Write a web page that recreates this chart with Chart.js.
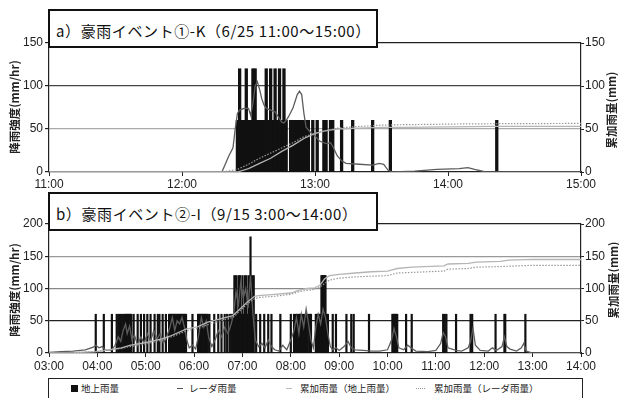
<!DOCTYPE html>
<html>
<head>
<meta charset="utf-8">
<script src="https://cdn.jsdelivr.net/npm/chart.js@4.4.0/dist/chart.umd.min.js"></script>
<style>
  body { margin: 0; background: #fff; }
  #page { position: relative; width: 619px; height: 398px; overflow: hidden; background: #fff;
          font-family: 'Noto Sans CJK JP', sans-serif; color: #111; }
  .wrap { position: absolute; left: 0; width: 619px; }
  .titlebox { position: absolute; left: 48px; width: 330px; height: 39px; box-sizing: border-box;
              border: 2px solid #111; background: #fff; font-size: 15px; line-height: 30px;
              padding: 5px 0 0 6px; white-space: nowrap; letter-spacing: 0.6px; }
  .ytitle { position: absolute; transform: translate(-50%, -50%) rotate(-90deg); font-size: 11.5px;
            font-weight: bold; white-space: nowrap; color: #222; }
  .lg { position: absolute; font-size: 9.5px; line-height: 12px; top: 382px; white-space: nowrap; color: #222; }
</style>
</head>
<body>
<div id="page">
  <div class="wrap" style="top:0;height:190px"><canvas id="chartA"></canvas></div>
  <div class="wrap" style="top:190px;height:183px"><canvas id="chartB"></canvas></div>

  <div class="titlebox" style="top:9px">a）豪雨イベント①-K（6/25 11:00～15:00）</div>
  <div class="titlebox" style="top:192px">b）豪雨イベント②-I（9/15 3:00～14:00）</div>

  <div class="ytitle" style="left:14px;top:107px">降雨強度(mm/hr)</div>
  <div class="ytitle" style="left:611px;top:110px">累加雨量(mm)</div>
  <div class="ytitle" style="left:14px;top:290px">降雨強度(mm/hr)</div>
  <div class="ytitle" style="left:613px;top:280px">累加雨量(mm)</div>

  <div style="position:absolute;left:48px;top:378px;width:535px;height:24px;box-sizing:border-box;border:1.5px solid #222"></div>
  <div style="position:absolute;left:71px;top:384.5px;width:7px;height:7px;background:#111"></div>
  <div class="lg" style="left:81px">地上雨量</div>
  <div style="position:absolute;left:177px;top:387.5px;width:6px;height:1.5px;background:#555"></div>
  <div class="lg" style="left:189px">レーダ雨量</div>
  <div style="position:absolute;left:286px;top:387.5px;width:6px;height:1.5px;background:#bbb"></div>
  <div class="lg" style="left:300px">累加雨量（地上雨量）</div>
  <div style="position:absolute;left:416px;top:387.5px;width:9px;height:0;border-top:1.5px dotted #999"></div>
  <div class="lg" style="left:434px">累加雨量（レーダ雨量）</div>
</div>

<script>
// Rain charts: ground gauge (1-min), radar, accumulated
Chart.defaults.font.family = "'Liberation Sans Narrow', 'Liberation Sans', sans-serif";
Chart.defaults.font.size = 12;
Chart.defaults.color = '#222';

// ---- a) 6/25 11:00-15:00, x in minutes after 11:00
const aTimeLabels = ['11:00', '12:00', '13:00', '14:00', '15:00'];
const aRain60 = [85, 87, 88, 90, 91, 94, 95, 96, 97, 99, 101, 103, 105, 107, 109, 110, 111, 112, 113, 114,
                 115, 116, 117, 119, 121, 124, 125, 127, 128, 132, 137, 146, 154, 202];
const aRain120 = [86, 89, 92, 93, 98, 100, 102, 104, 106];
const aRadarMin = [0, 78, 80, 81, 83, 84, 85, 86, 88, 90, 91, 92, 93, 94, 95, 96, 97, 98, 100, 102, 103, 105,
                   106, 107, 108, 110, 111, 112, 113, 114, 115, 116, 118, 120, 122, 125, 127, 128, 130, 132,
                   134, 140, 146, 149, 151, 153, 155, 165, 175, 185, 189, 192, 197, 240];
const aRadarVal = [0, 0, 12, 18, 28, 50, 68, 72, 74, 74, 66, 80, 100, 105, 96, 85, 78, 74, 72, 70, 66, 58,
                   57, 60, 64, 74, 82, 90, 94, 90, 68, 52, 46, 42, 36, 33, 34, 30, 19, 13,
                   10, 9, 8, 10, 9, 2, 0, 1, 3, 4, 5, 3, 0, 0];
const aAccGroundMin = [0, 85, 90, 95, 100, 105, 110, 115, 120, 125, 130, 140, 150, 160, 200, 240];
const aAccGroundVal = [0, 0, 4, 10, 16, 24, 31, 39, 45, 48, 50, 51, 52, 52, 53, 53];
const aAccRadarMin = [0, 78, 85, 90, 95, 100, 105, 110, 115, 120, 125, 130, 140, 150, 160, 190, 240];
const aAccRadarVal = [0, 0, 3, 9, 16, 22, 28, 34, 41, 45, 48, 51, 53, 54.5, 55, 56, 56.5];

// ---- b) 9/15 3:00-14:00, x in minutes after 03:00
const bTimeLabels = ['03:00', '04:00', '05:00', '06:00', '07:00', '08:00', '09:00', '10:00', '11:00',
                     '12:00', '13:00', '14:00'];
const bRain60 = [58, 68, 78, 84, 86, 88, 90, 92, 94, 95, 96, 97, 98, 99, 100, 101, 102, 105, 110, 114, 118,
                 122, 126, 131, 135, 137, 141, 145,
                 149, 150, 151, 152, 153, 154, 155, 156, 157, 158, 159, 160, 161, 162, 163, 164, 165, 166,
                 167, 168, 169, 170, 178,
                 185, 186, 187, 188, 189, 190, 191, 192, 193, 194, 195, 196, 197,
                 199, 205, 210, 214, 218, 221, 224, 226, 228, 229, 231, 233, 234, 236, 238, 239, 241, 242,
                 244, 246, 247, 249, 251, 253,
                 257, 262, 267, 272, 276, 287, 300,
                 304, 306, 307, 308, 310, 311, 312, 313, 315, 317, 318, 319, 320, 321, 323, 324, 325,
                 331, 332, 333, 334, 335, 336, 337, 344, 345, 346,
                 352, 356, 369, 375, 378, 397, 426, 427, 428, 429, 430, 431, 432,
                 443, 450, 489, 491, 493, 505, 523, 525, 554, 565, 566, 591];
const bRain120 = [230, 232, 235, 237, 240, 243, 245, 248, 252, 254, 338, 339, 340, 341, 342, 343];
const bRain180 = [250];
const bRadarMin = [0, 15, 30, 45, 55, 58, 62, 66, 70, 78, 82, 86, 89, 92, 95, 97, 100, 103, 106, 110, 114,
                   118, 122, 126, 130, 134, 138, 142, 146, 150, 153, 156, 159, 162, 165, 168, 171, 174, 178,
                   182, 186, 189, 192, 195, 198, 202, 206, 210, 214, 218, 222, 226, 229, 232, 235, 238, 241,
                   244, 247, 250, 253, 256, 260, 264, 268, 272, 276, 280, 285, 290, 295, 300, 304, 307, 310,
                   313, 316, 319, 322, 325, 328, 331, 334, 337, 340, 343, 346, 349, 352, 356, 360, 366, 371,
                   375, 380, 390, 400, 410, 420, 425, 428, 431, 434, 440, 445, 449, 455, 470, 480, 486, 489,
                   492, 495, 500, 505, 512, 520, 523, 526, 529, 535, 545, 550, 555, 562, 565, 568, 572, 580,
                   586, 589, 592, 600, 660];
const bRadarVal = [1, 2, 3, 5, 9, 12, 8, 10, 4, 5, 12, 25, 18, 35, 45, 30, 42, 20, 28, 12, 25,
                   15, 30, 18, 35, 22, 30, 15, 25, 40, 55, 35, 50, 45, 55, 40, 20, 8, 12,
                   6, 30, 55, 40, 50, 25, 10, 20, 35, 25, 40, 30, 45, 60, 95, 75, 110, 85,
                   100, 70, 120, 60, 20, 10, 15, 8, 20, 10, 5, 3, 12, 5, 20, 35, 55, 30,
                   60, 40, 68, 45, 20, 8, 40, 60, 45, 68, 55, 30, 10, 5, 8, 4, 10, 18,
                   8, 5, 4, 3, 3, 5, 20, 38, 25, 8, 5, 12, 8, 3, 2, 4, 15, 32,
                   25, 8, 6, 4, 3, 8, 18, 38, 12, 4, 3, 8, 4, 10, 25, 10, 6, 3,
                   8, 15, 3, 0, 0];
const bAccGroundMin = [0, 30, 58, 70, 90, 100, 120, 140, 150, 170, 185, 197, 210, 228, 235, 245, 255, 260,
                       280, 300, 310, 320, 330, 336, 342, 348, 360, 380, 400, 420, 432, 450, 490, 495, 520,
                       530, 560, 570, 600, 660];
const bAccGroundVal = [0, 0.5, 2, 4, 8, 12, 16, 22, 26, 37, 41, 48, 52, 58, 66, 78, 88, 89,
                       91, 93, 97, 100, 101, 105, 115, 120, 122, 124, 126, 127, 131, 133, 135, 138, 139,
                       141, 142, 144, 145, 145];
const bAccRadarMin = [0, 30, 58, 70, 90, 100, 120, 140, 150, 170, 185, 197, 210, 228, 235, 245, 255, 260,
                      280, 300, 310, 320, 330, 336, 342, 348, 360, 380, 400, 420, 432, 450, 490, 495, 520,
                      530, 560, 600, 660];
const bAccRadarVal = [0, 0.5, 2, 4, 7, 10, 14, 20, 24, 34, 38, 44, 49, 55, 63, 75, 84, 86,
                      88, 91, 95, 97, 99, 102, 108, 113, 116, 118, 119, 120, 124, 125, 127, 130, 131,
                      133, 134, 136, 136];

function toPoints(mins, vals) {
    return mins.map((m, i) => ({ x: m, y: vals[i] }));
}
function levelPoints(mins, level) {
    return mins.map(m => ({ x: m, y: level }));
}

function buildChart(id, cfg) {
    const axisBorder = { color: '#222', width: 1.2 };
    new Chart(document.getElementById(id), {
        type: 'bar',
        data: {
            datasets: [
                { type: 'bar', data: cfg.bars, backgroundColor: '#111', borderWidth: 0, grouped: false,
                  barThickness: cfg.barThickness, inflateAmount: 0.4, yAxisID: 'y', order: 4 },
                { type: 'line', data: cfg.radar, borderColor: '#5c5c5c', borderWidth: 1.3, pointRadius: 0,
                  tension: 0, yAxisID: 'y', order: 3 },
                { type: 'line', data: cfg.accGround, borderColor: '#b5b5b5', borderWidth: 1.3, pointRadius: 0,
                  yAxisID: 'yR', order: 2 },
                { type: 'line', data: cfg.accRadar, borderColor: '#999', borderWidth: 1.2, borderDash: [1.5, 1.5],
                  pointRadius: 0, yAxisID: 'yR', order: 1 }
            ]
        },
        options: {
            responsive: true,
            maintainAspectRatio: false,
            animation: false,
            layout: { padding: { top: cfg.padTop, left: 0, right: 0, bottom: 0 } },
            plugins: { legend: { display: false }, tooltip: { enabled: false } },
            scales: {
                x: {
                    type: 'linear', min: 0, max: cfg.xMax, offset: false,
                    grid: { drawOnChartArea: false, offset: false, tickLength: 4, tickColor: '#222' },
                    border: axisBorder,
                    ticks: { stepSize: 60, autoSkip: false, maxRotation: 0, padding: cfg.xPad,
                             callback: v => cfg.timeLabels[Math.round(v / 60)] },
                    afterFit: s => { s.height = cfg.xHeight; }
                },
                y: {
                    position: 'left', min: 0, max: cfg.yMax,
                    grid: { color: c => (c.tick && cfg.gridColors[c.tick.value]) || 'rgba(0,0,0,0)',
                            lineWidth: 1.2, tickLength: 4, tickColor: '#222' },
                    border: axisBorder,
                    ticks: { stepSize: 50, padding: 2 },
                    afterFit: s => { s.width = 49; }
                },
                yR: {
                    position: 'right', min: 0, max: cfg.yMax,
                    grid: { drawOnChartArea: false, tickLength: 3, tickColor: '#222' },
                    border: axisBorder,
                    ticks: { stepSize: 50, padding: 1 },
                    afterFit: s => { s.width = 38; }
                }
            }
        }
    });
}

buildChart('chartA', {
    bars: levelPoints(aRain60, 60).concat(levelPoints(aRain120, 120)),
    radar: toPoints(aRadarMin, aRadarVal),
    accGround: toPoints(aAccGroundMin, aAccGroundVal),
    accRadar: toPoints(aAccRadarMin, aAccRadarVal),
    timeLabels: aTimeLabels,
    xMax: 240, yMax: 150, padTop: 43, xHeight: 18, xPad: 1,
    barThickness: 2.5,
    gridColors: { 150: '#222', 100: '#444', 50: '#aaa' }
});

buildChart('chartB', {
    bars: levelPoints(bRain60, 60).concat(levelPoints(bRain120, 120), levelPoints(bRain180, 180)),
    radar: toPoints(bRadarMin, bRadarVal),
    accGround: toPoints(bAccGroundMin, bAccGroundVal),
    accRadar: toPoints(bAccRadarMin, bAccRadarVal),
    timeLabels: bTimeLabels,
    xMax: 660, yMax: 200, padTop: 34, xHeight: 20, xPad: 2,
    barThickness: 1.4,
    gridColors: { 200: '#222', 150: '#999', 100: '#888', 50: '#222' }
});
</script>
</body>
</html>
